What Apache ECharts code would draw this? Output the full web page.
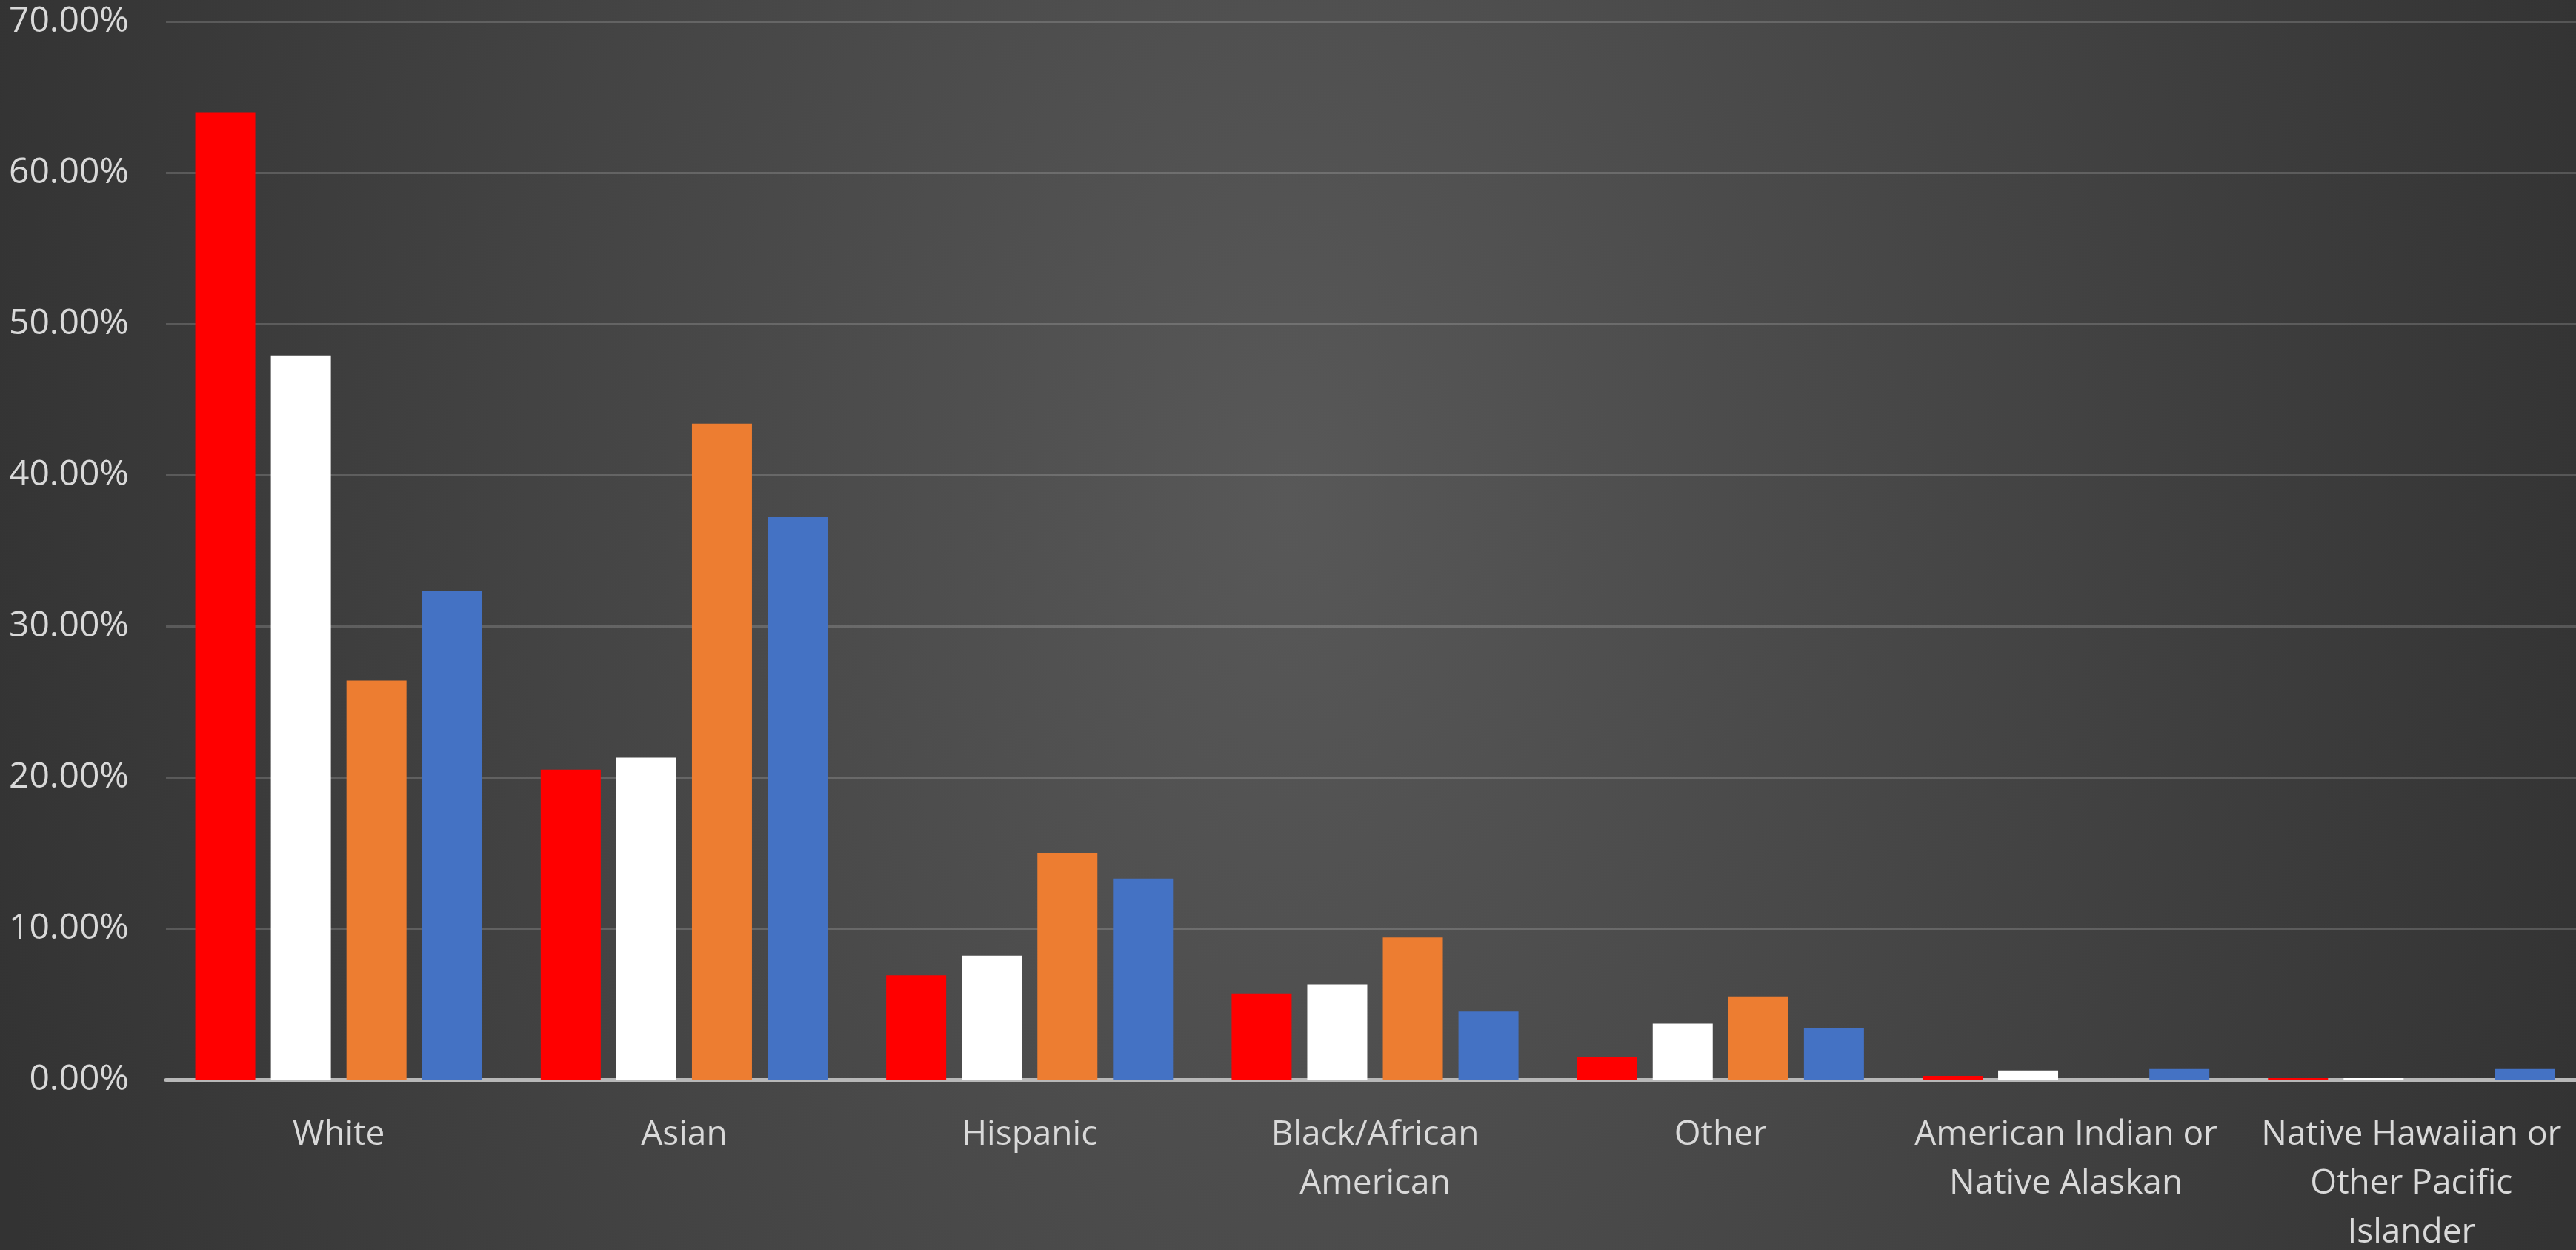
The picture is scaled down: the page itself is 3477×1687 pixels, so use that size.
<!DOCTYPE html>
<html>
<head>
<meta charset="utf-8">
<script src="https://cdn.jsdelivr.net/npm/echarts@6/dist/echarts.min.js"></script>
<style>
html,body{margin:0;padding:0;width:3477px;height:1687px;overflow:hidden;
background:radial-gradient(ellipse 52% 180% at 50% 40%, #585858 0%, #333333 100%);}
#chart{width:3477px;height:1687px;}
</style>
</head>
<body>
<div id="chart"></div>
<script>
const categories = ['White','Asian','Hispanic','Black/African\nAmerican','Other','American Indian or\nNative Alaskan','Native Hawaiian or\nOther Pacific\nIslander'];
const seriesRed    = [64.0, 20.5, 6.9, 5.7, 1.5, 0.25, 0.1];
const seriesWhite  = [47.9, 21.3, 8.2, 6.3, 3.7, 0.6, 0.1];
const seriesOrange = [26.4, 43.4, 15.0, 9.4, 5.5, 0, 0];
const seriesBlue   = [32.3, 37.2, 13.3, 4.5, 3.4, 0.7, 0.7];
const yTicks = [0, 10, 20, 30, 40, 50, 60, 70];

const colors = ['#ff0000', '#ffffff', '#ed7d31', '#4472c4'];
const data = [seriesRed, seriesWhite, seriesOrange, seriesBlue];

const chart = echarts.init(document.getElementById('chart'), null, {renderer:'canvas'});
chart.setOption({
  backgroundColor: 'transparent',
  animation: false,
  textStyle: {fontFamily: 'Open Sans'},
  grid: {left: 224, top: 29, width: 3264, height: 1428, containLabel: false, outerBoundsMode: 'none'},
  xAxis: {
    type: 'category',
    data: categories,
    axisLine: {show: true, lineStyle: {color: '#b8b8b8', width: 5}},
    axisTick: {show: false},
    axisLabel: {color: '#d9d9d9', fontSize: 46, lineHeight: 66, margin: 42, interval: 0, fontFamily: 'Open Sans'},
    splitLine: {show: false}
  },
  yAxis: {
    type: 'value',
    min: yTicks[0],
    max: yTicks[yTicks.length - 1],
    interval: 10,
    axisLine: {show: false},
    axisTick: {show: false},
    axisLabel: {color: '#d9d9d9', fontSize: 48, margin: 50, fontFamily: 'Open Sans',
      formatter: v => v.toFixed(2) + '%'},
    splitLine: {show: true, lineStyle: {color: 'rgba(255,255,255,0.17)', width: 3}}
  },
  series: data.map((d, i) => ({
    type: 'bar',
    data: d,
    barWidth: 81,
    barGap: '26%',
    itemStyle: {color: colors[i]},
    z: 1
  }))
});
</script>
</body>
</html>
